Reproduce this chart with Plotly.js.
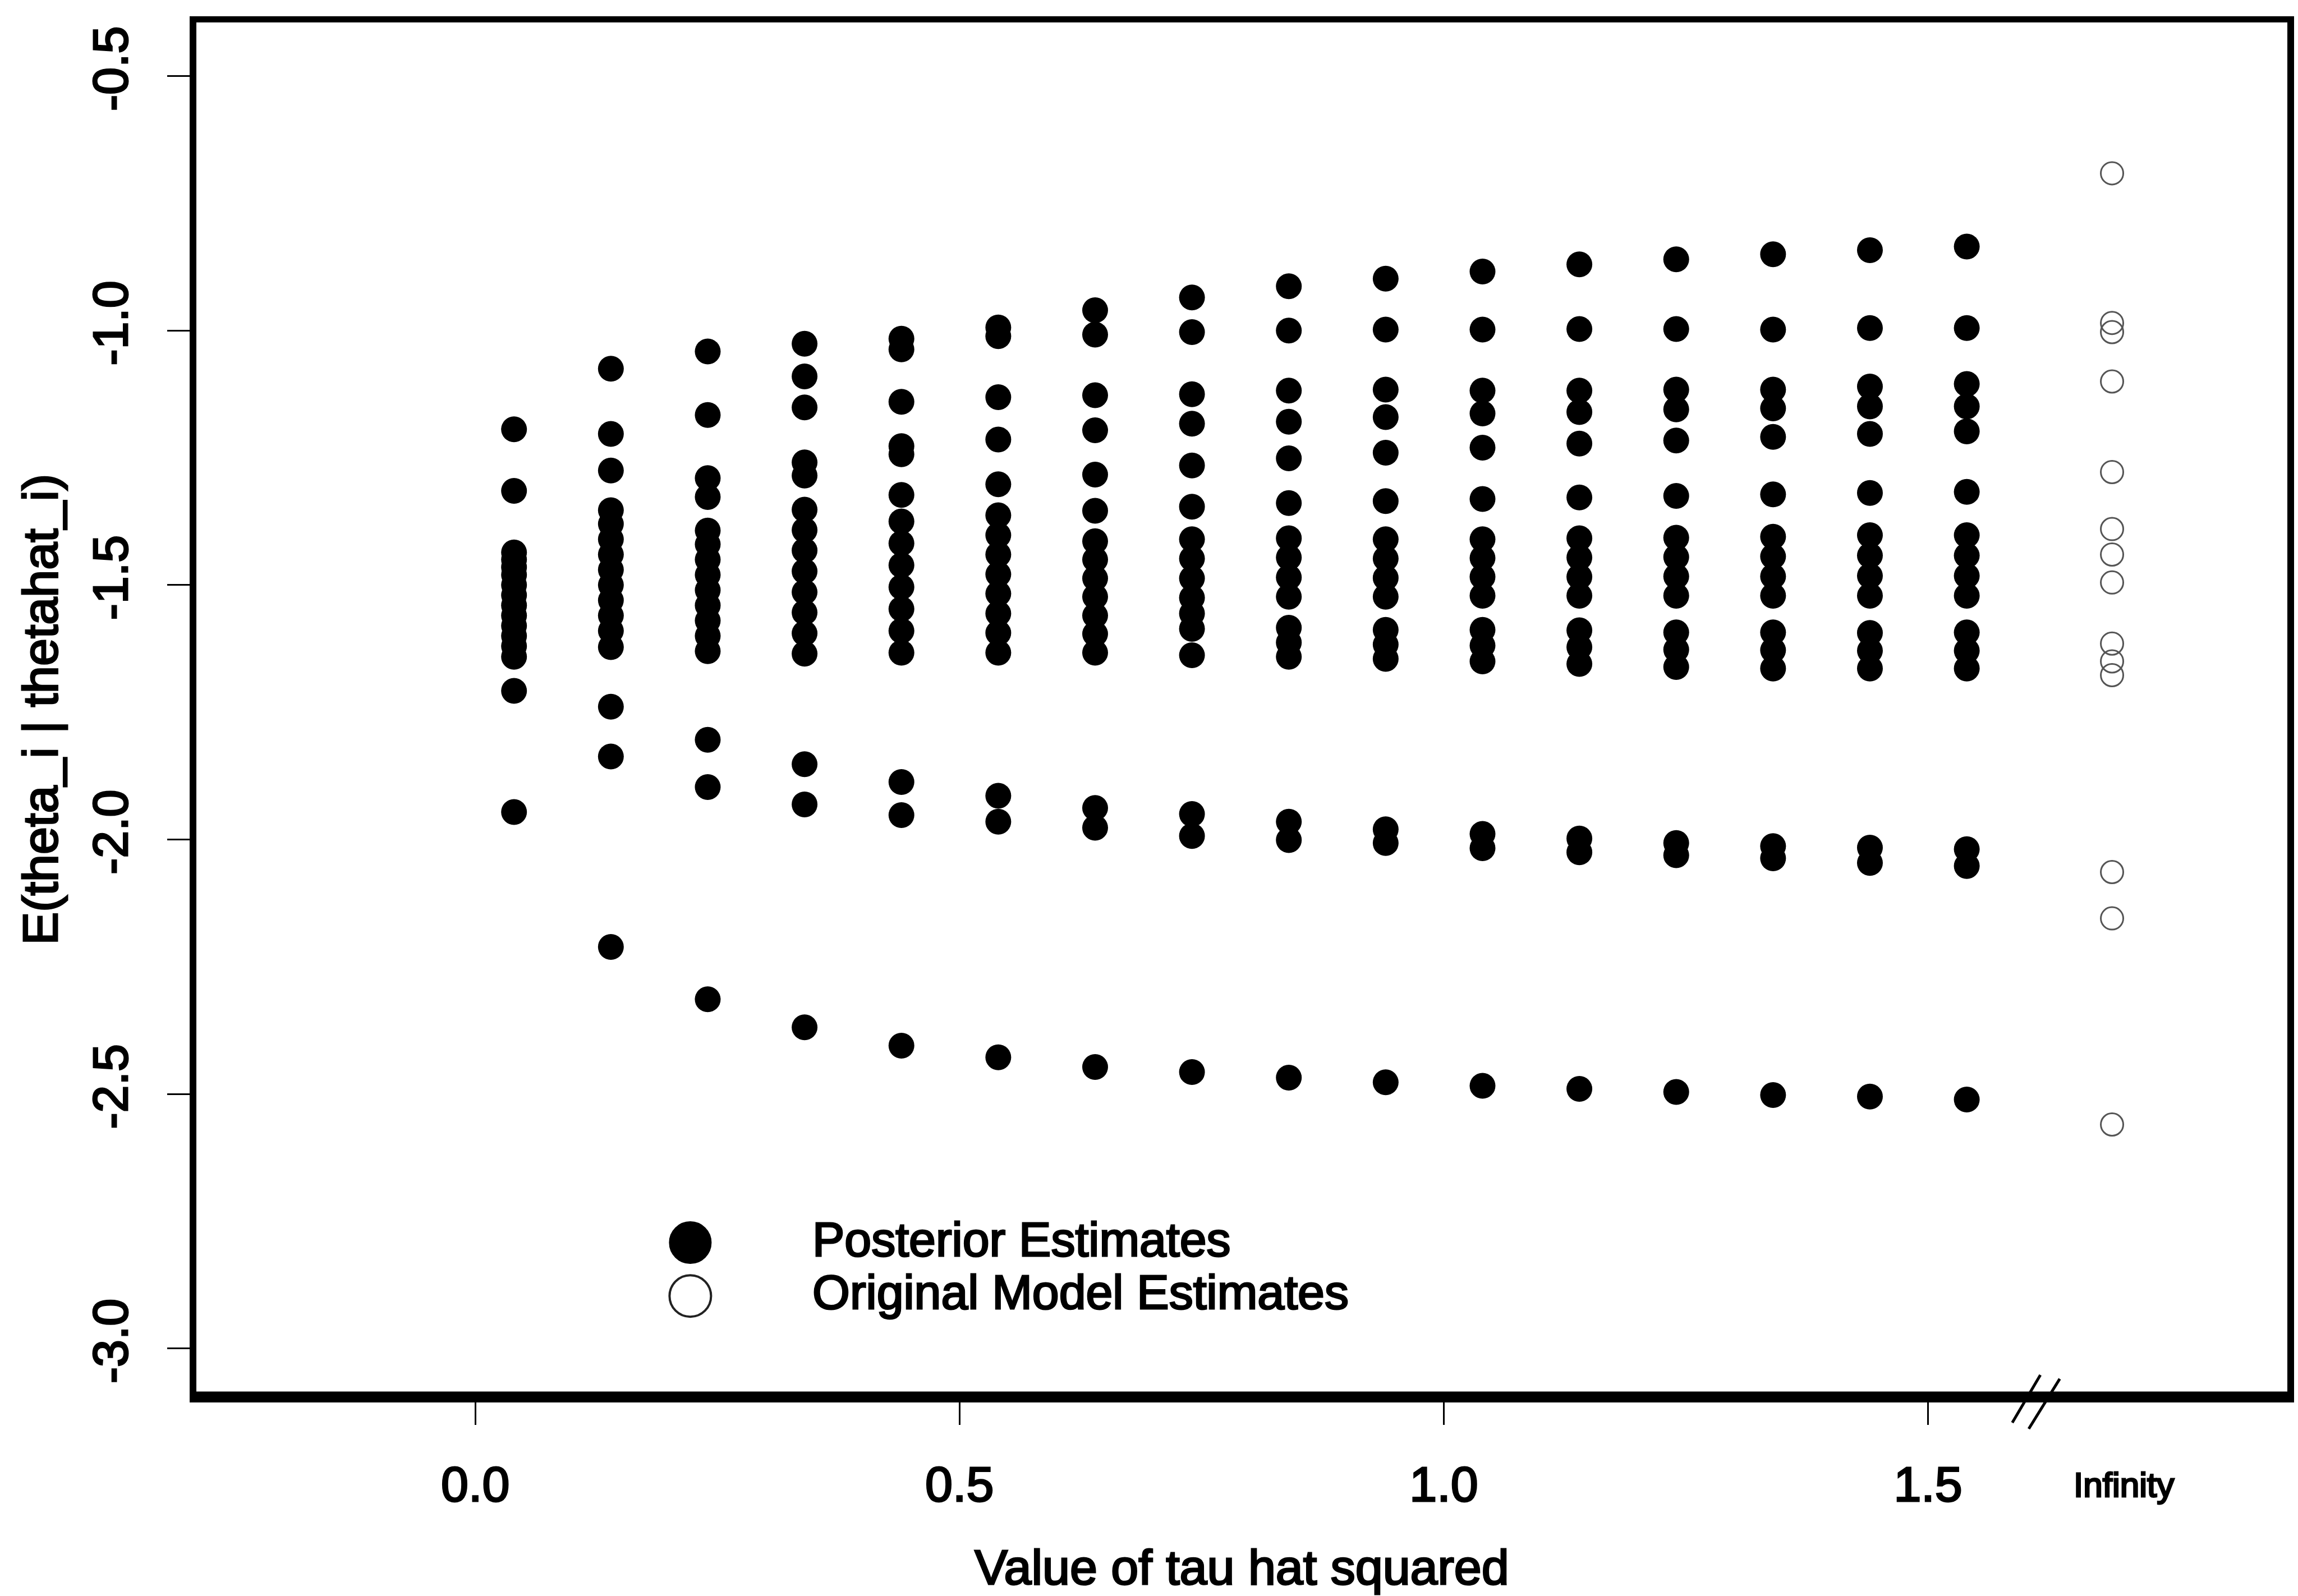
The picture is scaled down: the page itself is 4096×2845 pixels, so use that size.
<!DOCTYPE html>
<html>
<head>
<meta charset="utf-8">
<script src="https://cdn.plot.ly/plotly-3.0.1.min.js"></script>
<style>
html, body { margin: 0; padding: 0; background: #ffffff; }
#chart { width: 4096px; height: 2845px; }
#chart text { stroke: #000000; stroke-width: 3px; }
</style>
</head>
<body>
<div id="chart"></div>
<script>
// ---- Data ----
const tauHatSquared = [0.04, 0.14, 0.24, 0.34, 0.44, 0.54, 0.64, 0.74, 0.84, 0.94, 1.04, 1.14, 1.24, 1.34, 1.44, 1.54];

const post_t01 = [-1.194, -1.315, -1.436, -1.45, -1.465, -1.48, -1.50, -1.52, -1.54, -1.56, -1.58, -1.60, -1.62, -1.641, -1.708, -1.946];
const post_t02 = [-1.075, -1.203, -1.275, -1.353, -1.38, -1.41, -1.44, -1.47, -1.50, -1.53, -1.56, -1.59, -1.622, -1.739, -1.837, -2.211];
const post_t03 = [-1.041, -1.166, -1.29, -1.327, -1.393, -1.42, -1.45, -1.48, -1.51, -1.54, -1.57, -1.60, -1.630, -1.804, -1.897, -2.314];
const post_t04 = [-1.026, -1.090, -1.151, -1.259, -1.285, -1.352, -1.392, -1.432, -1.473, -1.514, -1.554, -1.595, -1.635, -1.852, -1.931, -2.369];
const post_t05 = [-1.016, -1.037, -1.140, -1.227, -1.243, -1.323, -1.375, -1.418, -1.461, -1.504, -1.547, -1.590, -1.633, -1.887, -1.952, -2.405];
const post_t06 = [-0.994, -1.011, -1.131, -1.214, -1.302, -1.363, -1.402, -1.44, -1.479, -1.517, -1.556, -1.594, -1.633, -1.914, -1.965, -2.428];
const post_t07 = [-0.960, -1.008, -1.127, -1.196, -1.283, -1.354, -1.414, -1.45, -1.487, -1.523, -1.56, -1.596, -1.633, -1.938, -1.977, -2.447];
const post_t08 = [-0.935, -1.003, -1.125, -1.183, -1.265, -1.346, -1.41, -1.448, -1.487, -1.525, -1.556, -1.586, -1.638, -1.950, -1.993, -2.457];
const post_t09 = [-0.913, -1.000, -1.118, -1.179, -1.251, -1.339, -1.408, -1.446, -1.485, -1.523, -1.584, -1.613, -1.641, -1.965, -2.001, -2.468];
const post_t10 = [-0.898, -0.998, -1.116, -1.170, -1.240, -1.335, -1.410, -1.448, -1.486, -1.523, -1.588, -1.617, -1.645, -1.980, -2.007, -2.477];
const post_t11 = [-0.884, -0.998, -1.118, -1.163, -1.230, -1.331, -1.410, -1.447, -1.484, -1.521, -1.588, -1.619, -1.650, -1.989, -2.017, -2.484];
const post_t12 = [-0.870, -0.997, -1.118, -1.160, -1.222, -1.328, -1.408, -1.446, -1.484, -1.521, -1.589, -1.622, -1.655, -1.998, -2.025, -2.490];
const post_t13 = [-0.860, -0.997, -1.116, -1.155, -1.216, -1.325, -1.407, -1.445, -1.483, -1.521, -1.593, -1.627, -1.661, -2.007, -2.031, -2.496];
const post_t14 = [-0.850, -0.998, -1.116, -1.153, -1.209, -1.322, -1.405, -1.444, -1.483, -1.521, -1.593, -1.628, -1.664, -2.013, -2.037, -2.502];
const post_t15 = [-0.842, -0.995, -1.110, -1.149, -1.203, -1.319, -1.402, -1.442, -1.482, -1.521, -1.594, -1.629, -1.664, -2.016, -2.046, -2.505];
const post_t16 = [-0.835, -0.995, -1.105, -1.149, -1.198, -1.317, -1.402, -1.442, -1.482, -1.521, -1.593, -1.629, -1.664, -2.019, -2.052, -2.511];

const posteriorByTau = [post_t01, post_t02, post_t03, post_t04, post_t05, post_t06, post_t07, post_t08,
                        post_t09, post_t10, post_t11, post_t12, post_t13, post_t14, post_t15, post_t16];

// "Infinity" is drawn beyond the axis break, at this x value
const infinityX = 1.69;
const originalEstimates = [-0.691, -0.985, -1.003, -1.100, -1.278, -1.390, -1.440, -1.495, -1.615, -1.650, -1.677, -2.064, -2.155, -2.56];

const xTickVals = [0, 0.5, 1.0, 1.5];
const xTickText = ["0.0", "0.5", "1.0", "1.5"];
const yTickVals = [-3.0, -2.5, -2.0, -1.5, -1.0, -0.5];
const yTickText = ["-3.0", "-2.5", "-2.0", "-1.5", "-1.0", "-0.5"];

const legendLabels = ["Posterior Estimates", "Original Model Estimates"];
const xTitle = "Value of tau hat squared";
const yTitle = "E(theta_i | thetahat_i)";
const infinityLabel = "Infinity";

// ---- Build traces ----
const postX = [], postY = [];
tauHatSquared.forEach((t, i) => {
  posteriorByTau[i].forEach(v => { postX.push(t); postY.push(v); });
});
const origX = originalEstimates.map(() => infinityX);

const FONT = 'Liberation Sans, Arial, Helvetica, sans-serif';

const traces = [
  {
    type: 'scatter', mode: 'markers', name: legendLabels[0],
    x: postX, y: postY,
    marker: { symbol: 'circle', size: 46, color: '#000000', line: { width: 0 } },
    showlegend: false, hoverinfo: 'skip'
  },
  {
    type: 'scatter', mode: 'markers', name: legendLabels[1],
    x: origX, y: originalEstimates,
    marker: { symbol: 'circle-open', size: 40, color: '#555555', line: { width: 3, color: '#555555' } },
    showlegend: false, hoverinfo: 'skip'
  }
];

const layout = {
  width: 4096, height: 2845,
  margin: { l: 350, r: 19, t: 40, b: 356, pad: 0 },
  paper_bgcolor: '#ffffff', plot_bgcolor: '#ffffff',
  showlegend: false,
  font: { family: FONT, color: '#000000', size: 88 },
  xaxis: {
    range: [-0.288, 1.871],
    tickmode: 'array', tickvals: xTickVals, ticktext: xTickText,
    ticks: 'outside', ticklen: 40, tickwidth: 3, tickcolor: '#000000',
    ticklabelstandoff: 30,
    tickfont: { family: FONT, size: 88, color: '#000000' },
    showline: true, mirror: true, linewidth: 11, linecolor: '#000000',
    showgrid: false, zeroline: false,
    title: { text: xTitle, font: { family: FONT, size: 88, color: '#000000' }, standoff: 73 }
  },
  yaxis: {
    range: [-3.094, -0.3946],
    tickmode: 'array', tickvals: yTickVals, ticktext: yTickText,
    tickangle: -90,
    ticks: 'outside', ticklen: 40, tickwidth: 3, tickcolor: '#000000',
    ticklabelstandoff: 36,
    tickfont: { family: FONT, size: 88, color: '#000000' },
    showline: true, mirror: true, linewidth: 12, linecolor: '#000000',
    showgrid: false, zeroline: false,
    title: { text: yTitle, font: { family: FONT, size: 88, color: '#000000' }, standoff: 20 }
  },
  shapes: [
    // thicker bottom frame line
    { type: 'line', xref: 'paper', yref: 'paper', x0: 0, x1: 1, y0: 0, y1: 0,
      line: { color: '#000000', width: 17 } },
    // axis-break marks "//"
    { type: 'line', xref: 'x', yref: 'paper', x0: 1.587, y0: -0.0192, x1: 1.616, y1: 0.0155,
      line: { color: '#000000', width: 5 } },
    { type: 'line', xref: 'x', yref: 'paper', x0: 1.604, y0: -0.0237, x1: 1.636, y1: 0.0127,
      line: { color: '#000000', width: 5 } },
    // legend symbols
    { type: 'circle', xref: 'x', yref: 'y', xsizemode: 'pixel', ysizemode: 'pixel',
      xanchor: 0.222, yanchor: -2.792, x0: -37, x1: 37, y0: -37, y1: 37,
      fillcolor: '#000000', line: { color: '#000000', width: 2 } },
    { type: 'circle', xref: 'x', yref: 'y', xsizemode: 'pixel', ysizemode: 'pixel',
      xanchor: 0.222, yanchor: -2.897, x0: -37, x1: 37, y0: -37, y1: 37,
      fillcolor: 'rgba(0,0,0,0)', line: { color: '#222222', width: 4 } }
  ],
  annotations: [
    { text: legendLabels[0], xref: 'x', yref: 'y', x: 0.347, y: -2.785,
      xanchor: 'left', yanchor: 'middle', showarrow: false,
      font: { family: FONT, size: 86, color: '#000000' } },
    { text: legendLabels[1], xref: 'x', yref: 'y', x: 0.347, y: -2.889,
      xanchor: 'left', yanchor: 'middle', showarrow: false,
      font: { family: FONT, size: 86, color: '#000000' } },
    { text: infinityLabel, xref: 'x', yref: 'paper', x: 1.702, y: 0, yshift: -157,
      xanchor: 'center', yanchor: 'middle', showarrow: false,
      font: { family: FONT, size: 62, color: '#000000' } }
  ]
};

Plotly.newPlot('chart', traces, layout, { staticPlot: true, displayModeBar: false });
</script>
</body>
</html>
